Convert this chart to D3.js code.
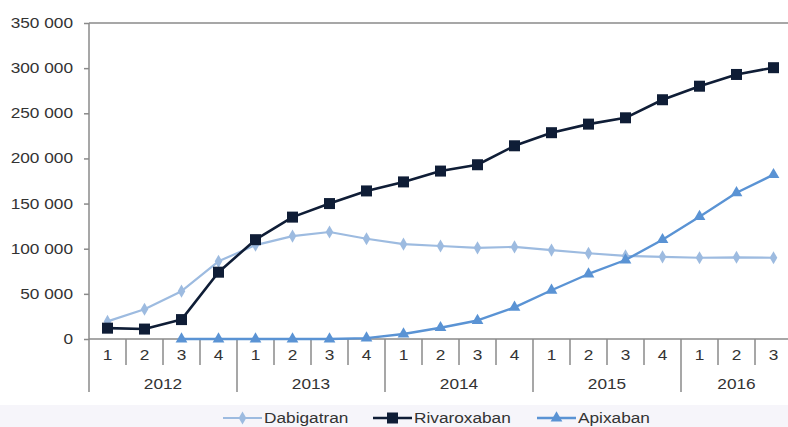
<!DOCTYPE html>
<html><head><meta charset="utf-8">
<script src="https://cdn.jsdelivr.net/npm/d3@7/dist/d3.min.js"></script>
<style>body{margin:0;background:#fff}svg{display:block}text{font-family:"Liberation Sans",Arial,sans-serif;fill:#333}</style>
</head><body><svg id="c" width="788" height="427"></svg>
<script>
const quarters = ["1","2","3","4","1","2","3","4","1","2","3","4","1","2","3","4","1","2","3"];
const years = ["2012","2013","2014","2015","2016"];
const yearStarts = [0,4,8,12,16];
const yTicks = [0,50000,100000,150000,200000,250000,300000,350000];
const yLabels = ["0","50 000","100 000","150 000","200 000","250 000","300 000","350 000"];
const dabigatran = [19500,33000,53000,86000,104000,114000,118500,111000,105000,103000,101000,102000,98500,95000,92000,91000,90000,90500,90000];
const rivaroxaban = [12000,11000,21500,74000,110000,135000,150000,164000,174000,186000,193000,214000,228500,238000,245000,265000,280000,293000,300500];
const apixaban = [null,null,0,0,0,0,0,1000,5500,12500,20500,35000,54000,72000,87500,110000,135500,162000,182000];
const seriesNames = ["Dabigatran","Rivaroxaban","Apixaban"];
const colors = {Dabigatran:"#9dbbe0",Rivaroxaban:"#0f1d36",Apixaban:"#5a93d4"};

const svg = d3.select("#c");
const L = 89, R = 792, T = 23, B = 339;
const x = d3.scaleBand().domain(d3.range(quarters.length)).range([L,R]).paddingInner(0).paddingOuter(0);
const y = d3.scaleLinear().domain([0,350000]).range([B,T]);
const cx = i => x(i) + x.bandwidth()/2;
const axisCol = "#8a8a8a";
const SX = 1.15;

function txt(g, px, py, s, anchor, size){
  g.append("text").attr("transform",`translate(${px},${py}) scale(${SX},1)`)
   .attr("text-anchor",anchor).style("font-size",(size||15)+"px").text(s);
}

// legend background band
svg.append("rect").attr("x",0).attr("y",405).attr("width",788).attr("height",22).attr("fill","#f6f5fa");

// top border
svg.append("line").attr("x1",L).attr("x2",R).attr("y1",T).attr("y2",T).attr("stroke",axisCol).attr("stroke-width",1.5);

// y axis
const yAxis = d3.axisLeft(y).tickValues(yTicks).tickSize(5).tickFormat("");
const ya = svg.append("g").attr("transform",`translate(${L},0)`).call(yAxis);
ya.select(".domain").remove();
ya.selectAll(".tick line").attr("stroke",axisCol).attr("stroke-width",1.5);
svg.append("line").attr("x1",L).attr("x2",L).attr("y1",T).attr("y2",392).attr("stroke",axisCol).attr("stroke-width",1.5);
const yl = svg.append("g");
yTicks.forEach((v,i)=>txt(yl, 73, y(v)+5, yLabels[i], "end"));

// x axis
svg.append("line").attr("x1",L).attr("x2",R).attr("y1",B).attr("y2",B).attr("stroke",axisCol).attr("stroke-width",1.5);
const xg = svg.append("g");
quarters.forEach((q,i)=>{
  const bx = x(i);
  if(i>0){
    const isYear = yearStarts.includes(i);
    xg.append("line").attr("x1",bx).attr("x2",bx).attr("y1",B).attr("y2",isYear?392:365).attr("stroke",axisCol).attr("stroke-width",1.5);
  }
  txt(xg, cx(i), 360, q, "middle");
});
years.forEach((yr,k)=>{
  const s = yearStarts[k], e = Math.min(s+3, quarters.length-1);
  txt(xg, (x(s)+x(e)+x.bandwidth())/2, 389, yr, "middle");
});

// lines
const line = d3.line().defined(d=>d[1]!==null).x(d=>cx(d[0])).y(d=>y(d[1]));
const data = {Dabigatran:dabigatran,Rivaroxaban:rivaroxaban,Apixaban:apixaban};
const widths = {Dabigatran:2.2,Rivaroxaban:2.6,Apixaban:2.4};
function marker(g, name, px, py){
  const c = colors[name];
  if(name==="Dabigatran"){
    g.append("path").attr("d",d3.symbol().type(d3.symbolDiamond).size(50)()).attr("transform",`translate(${px},${py})`).attr("fill",c);
  } else if(name==="Rivaroxaban"){
    g.append("rect").attr("x",px-5.5).attr("y",py-5.5).attr("width",11).attr("height",11).attr("fill",c);
  } else {
    g.append("path").attr("d",d3.symbol().type(d3.symbolTriangle).size(60)()).attr("transform",`translate(${px},${py})`).attr("fill",c);
  }
}
seriesNames.forEach(name=>{
  const pts = data[name].map((v,i)=>[i,v]);
  svg.append("path").datum(pts).attr("d",line).attr("fill","none").attr("stroke",colors[name]).attr("stroke-width",widths[name]).attr("stroke-linejoin","round");
  const mg = svg.append("g");
  pts.filter(d=>d[1]!==null).forEach(d=>marker(mg,name,cx(d[0]),y(d[1])));
});

// legend
const legX = {Dabigatran:223,Rivaroxaban:373,Apixaban:537};
const lg = svg.append("g");
seriesNames.forEach(name=>{
  const lx = legX[name], ly = 418;
  lg.append("line").attr("x1",lx).attr("x2",lx+39).attr("y1",ly).attr("y2",ly).attr("stroke",colors[name]).attr("stroke-width",widths[name]);
  marker(lg,name,lx+19.5,ly);
  txt(lg, lx+41, ly+5, name, "start");
});
</script></body></html>
